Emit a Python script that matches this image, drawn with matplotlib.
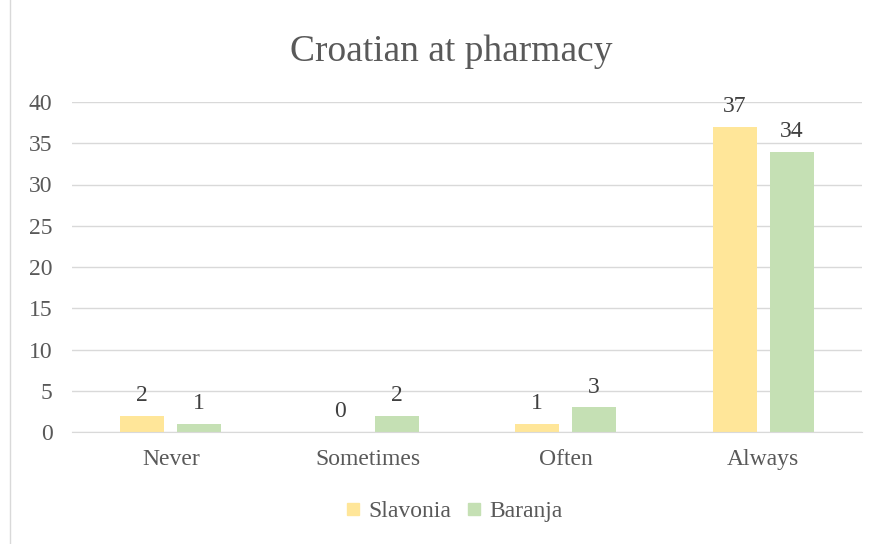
import matplotlib.pyplot as plt
from matplotlib.lines import Line2D
import numpy as np

categories = ["Never", "Sometimes", "Often", "Always"]
slavonia = [2, 0, 1, 37]
baranja = [1, 2, 3, 34]
yticks = [0, 5, 10, 15, 20, 25, 30, 35, 40]

plt.rcParams["font.family"] = ["Liberation Serif", "DejaVu Serif"]
text_color = "#595959"
grid_color = "#d9d9d9"

fig = plt.figure(figsize=(8.84, 5.44), dpi=100)
ax = fig.add_axes([72 / 884, 1 - 432 / 544, 790 / 884, 330 / 544])

x = np.arange(len(categories))
width = 0.223
offset = 0.144
b1 = ax.bar(x - offset, slavonia, width, color="#ffe699", label="Slavonia")
b2 = ax.bar(x + offset, baranja, width, color="#c5e0b4", label="Baranja")

for bars in (b1, b2):
    ax.bar_label(bars, padding=7, fontsize=17, color="#404040")

ax.set_xlim(-0.5, len(categories) - 0.5)
ax.set_ylim(0, 40)
ax.set_yticks(yticks)
ax.set_xticks(x)
ax.set_xticklabels(categories)
ax.yaxis.grid(True, color=grid_color, linewidth=1)
ax.set_axisbelow(True)
for side in ("top", "right", "left"):
    ax.spines[side].set_visible(False)
ax.spines["bottom"].set_color(grid_color)
ax.tick_params(axis="both", length=0, labelsize=17, colors=text_color)
ax.tick_params(axis="x", pad=12)
ax.tick_params(axis="y", pad=14)

fig.text(0.511, 0.905, "Croatian at pharmacy", ha="center", va="center",
         fontsize=27, color=text_color)

handles = [Line2D([], [], marker="s", linestyle="", markersize=9,
                  color=c) for c in ("#ffe699", "#c5e0b4")]
fig.legend(handles, ["Slavonia", "Baranja"], loc="center",
           bbox_to_anchor=(0.513, 0.06), ncol=2, frameon=False,
           fontsize=17, labelcolor=text_color, handlelength=0.7,
           handletextpad=0.3, columnspacing=0.6)

fig.add_artist(Line2D([10 / 884, 10 / 884], [0, 1], color=grid_color,
                      linewidth=1, transform=fig.transFigure))

fig.savefig("out.png", dpi=100)
